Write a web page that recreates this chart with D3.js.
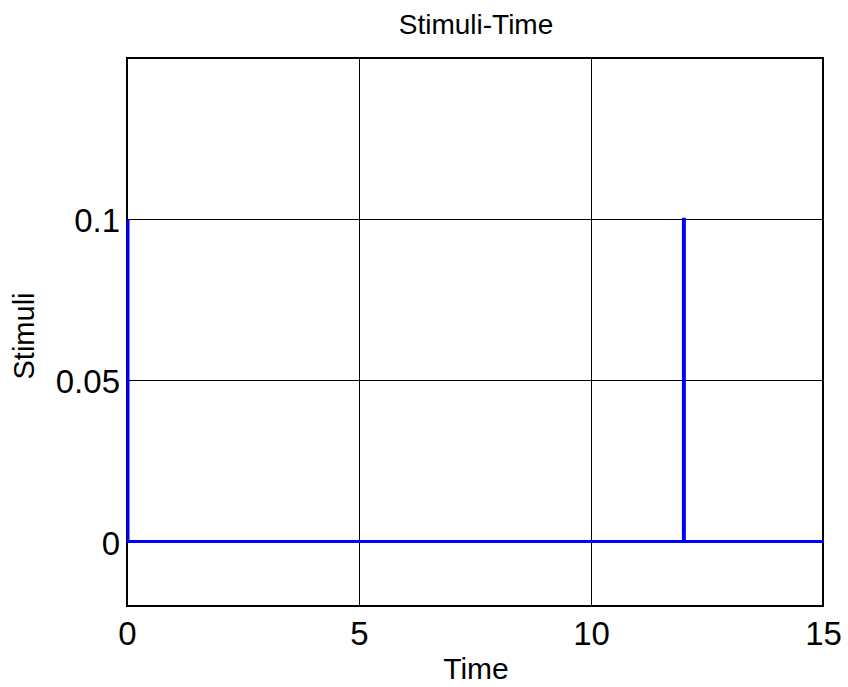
<!DOCTYPE html>
<html>
<head>
<meta charset="utf-8">
<script src="https://cdn.jsdelivr.net/npm/d3@7"></script>
<style>
  body { margin: 0; background: #fff; }
  text { font-family: "Liberation Sans", Arial, sans-serif; }
</style>
</head>
<body>
<div id="chart"></div>
<script>
// stimulus trace
let times = [0, 0, 11.97, 11.97, 11.99, 11.99, 15];
let stimuli = [0.1, 0, 0, 0.1, 0.1, 0, 0];
let xTicks = [0, 5, 10, 15];
let yTicks = [0, 0.05, 0.1];
let yTickLabels = ["0", "0.05", "0.1"];

let width = 848, height = 687;
let margin = { left: 127, top: 58, right: 25, bottom: 81 };

let svg = d3.select("#chart")
    .append("svg")
    .attr("width", width)
    .attr("height", height);

let x = d3.scaleLinear()
    .domain([0, 15])
    .range([margin.left, width - margin.right]);

let y = d3.scaleLinear()
    .domain([-0.02, 0.15])
    .range([height - margin.bottom, margin.top]);

let crisp = (v) => Math.round(v) + 0.5;

// grid
svg.append("g")
    .selectAll("line")
    .data(xTicks)
    .enter()
    .append("line")
    .attr("x1", (d) => crisp(x(d)))
    .attr("x2", (d) => crisp(x(d)))
    .attr("y1", y.range()[0])
    .attr("y2", y.range()[1])
    .attr("stroke", "#000")
    .attr("stroke-width", 1);

svg.append("g")
    .selectAll("line")
    .data(yTicks)
    .enter()
    .append("line")
    .attr("x1", x.range()[0])
    .attr("x2", x.range()[1])
    .attr("y1", (d) => crisp(y(d)))
    .attr("y2", (d) => crisp(y(d)))
    .attr("stroke", "#000")
    .attr("stroke-width", 1);

// axes
let xAxis = d3.axisBottom(x).tickValues(xTicks).tickSize(0);
let yAxis = d3.axisLeft(y).tickValues(yTicks).tickSize(0).tickPadding(7)
    .tickFormat((d, i) => yTickLabels[i]);

svg.append("g")
    .attr("transform", "translate(0," + y.range()[0] + ")")
    .call(xAxis)
    .call((g) => g.select(".domain").remove())
    .selectAll("text")
    .attr("y", 39)
    .attr("dy", 0)
    .attr("font-size", 33)
    .attr("fill", "#000");

svg.append("g")
    .attr("transform", "translate(" + x.range()[0] + ",0)")
    .call(yAxis)
    .call((g) => g.select(".domain").remove())
    .selectAll("text")
    .attr("dy", "0.38em")
    .attr("font-size", 33)
    .attr("fill", "#000");

// box
svg.append("rect")
    .attr("x", x.range()[0])
    .attr("y", y.range()[1])
    .attr("width", x.range()[1] - x.range()[0])
    .attr("height", y.range()[0] - y.range()[1])
    .attr("fill", "none")
    .attr("stroke", "#000")
    .attr("stroke-width", 2);

// line
let line = d3.line()
    .x((d, i) => x(times[i]) + 1)
    .y((d) => y(d));

svg.append("path")
    .datum(stimuli)
    .attr("d", line)
    .attr("fill", "none")
    .attr("stroke", "#0000ff")
    .attr("stroke-width", 3);

// labels
svg.append("text")
    .attr("x", (x.range()[0] + x.range()[1]) / 2 + 1)
    .attr("y", 34)
    .attr("text-anchor", "middle")
    .attr("font-size", 28)
    .text("Stimuli-Time");

svg.append("text")
    .attr("x", (x.range()[0] + x.range()[1]) / 2 + 1)
    .attr("y", 679)
    .attr("text-anchor", "middle")
    .attr("font-size", 30)
    .text("Time");

svg.append("text")
    .attr("transform", "translate(34," + ((y.range()[0] + y.range()[1]) / 2 + 4) + ") rotate(-90)")
    .attr("text-anchor", "middle")
    .attr("font-size", 29)
    .text("Stimuli");
</script>
</body>
</html>
